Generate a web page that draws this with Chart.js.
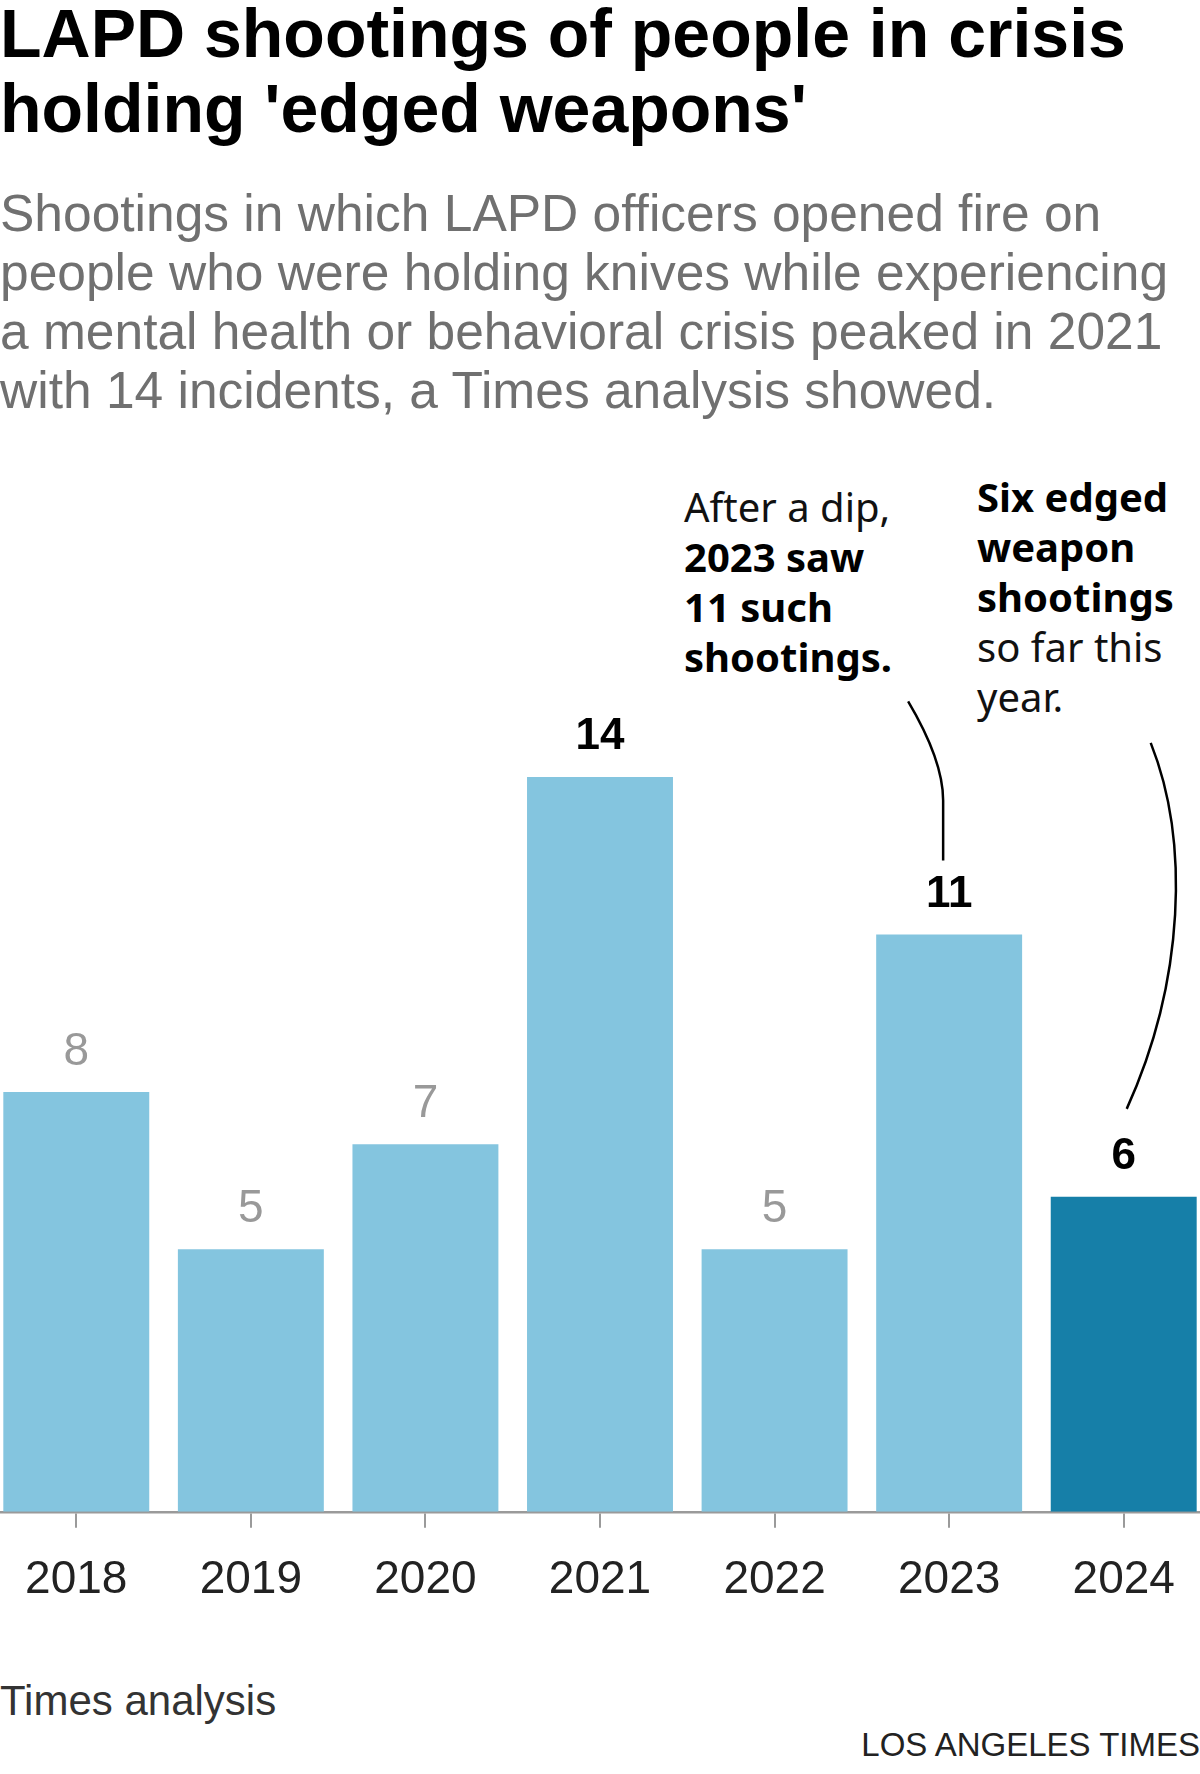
<!DOCTYPE html>
<html>
<head>
<meta charset="utf-8">
<script src="https://cdn.jsdelivr.net/npm/chart.js@4.4.1/dist/chart.umd.min.js"></script>
<style>
  html, body { margin:0; padding:0; background:#fff; width:1200px; height:1774px; overflow:hidden; position:relative; }
  .t { position:absolute; left:0; white-space:nowrap; }
  #title { top:-4px; font:bold 68px/75px "Liberation Sans", Arial, sans-serif; color:#000; }
  #sub { top:184px; font:51.5px/59px "Liberation Sans", Arial, sans-serif; color:#707070; }
  .ann { position:absolute; font:40px/50px "Noto Sans", sans-serif; color:#111; white-space:nowrap; }
  .ann b { font-weight:bold; color:#000; }
  #src { top:1680px; font:42px/42px "Liberation Sans", Arial, sans-serif; color:#333; }
  #credit { position:absolute; right:0; top:1729px; font:33px/32px "Liberation Sans", Arial, sans-serif; color:#222; white-space:nowrap; }
  #c { position:absolute; left:-11px; top:462px; }
</style>
</head>
<body>
<div id="title" class="t">LAPD shootings of people in crisis<br>holding 'edged weapons'</div>
<div id="sub" class="t">Shootings in which LAPD officers opened fire on<br>people who were holding knives while experiencing<br>a mental health or behavioral crisis peaked in 2021<br>with 14 incidents, a Times analysis showed.</div>
<div class="ann" style="left:684px; top:482px;">After a dip,<br><b>2023 saw<br>11 such<br>shootings.</b></div>
<div class="ann" style="left:977px; top:472px;"><b>Six edged<br>weapon<br>shootings</b><br>so far this<br>year.</div>
<div id="src" class="t">Times analysis</div>
<div id="credit">LOS ANGELES TIMES</div>
<canvas id="c" width="1222" height="1171"></canvas>
<script>
const years = ['2018','2019','2020','2021','2022','2023','2024'];
const shootings = [8, 5, 7, 14, 5, 11, 6];
const highlightYear = '2024';
const boldLabelYears = ['2021','2023','2024'];

const LIGHT = '#84c5df';
const DARK = '#167fa8';

const labelPlugin = {
  id: 'valueLabels',
  afterDatasetsDraw(chart) {
    const ctx = chart.ctx;
    const meta = chart.getDatasetMeta(0);
    ctx.save();
    ctx.textAlign = 'center';
    ctx.textBaseline = 'middle';
    meta.data.forEach((bar, i) => {
      const bold = boldLabelYears.includes(years[i]);
      ctx.font = bold ? 'bold 44px "Liberation Sans", Arial, sans-serif' : '46px "Liberation Sans", Arial, sans-serif';
      ctx.fillStyle = bold ? '#000' : '#999';
      ctx.fillText(String(shootings[i]), bar.x, bar.y - 40);
    });
    // connector lines
    const x = chart.scales.x, y = chart.scales.y;
    ctx.strokeStyle = '#000';
    ctx.lineWidth = 2.5;
    ctx.lineCap = 'butt';
    const i23 = years.indexOf('2023');
    const ax = x.getPixelForValue(i23) - 6, ay = y.getPixelForValue(shootings[i23]) - 74;
    ctx.beginPath();
    ctx.moveTo(ax - 35, ay - 159);
    ctx.quadraticCurveTo(ax, ay - 100, ax, ay - 60);
    ctx.lineTo(ax, ay);
    ctx.stroke();
    const i24 = years.indexOf('2024');
    const bx = x.getPixelForValue(i24) + 3, by = y.getPixelForValue(shootings[i24]) - 88;
    ctx.beginPath();
    ctx.moveTo(bx + 24, by - 366);
    ctx.bezierCurveTo(bx + 63, by - 268, bx + 58, by - 128, bx, by);
    ctx.stroke();
    ctx.restore();
  }
};

new Chart(document.getElementById('c'), {
  type: 'bar',
  data: {
    labels: years,
    datasets: [{
      data: shootings,
      backgroundColor: years.map(y => y === highlightYear ? DARK : LIGHT),
      borderWidth: 0,
      barPercentage: 0.836,
      categoryPercentage: 1.0
    }]
  },
  options: {
    responsive: false,
    animation: false,
    devicePixelRatio: 1,
    layout: { padding: 0 },
    plugins: { legend: { display: false }, tooltip: { enabled: false } },
    scales: {
      y: { display: false, min: 0, max: 20 },
      x: {
        border: { display: true, color: '#9a9a9a', width: 2.5 },
        grid: { display: true, drawOnChartArea: false, drawTicks: true, tickLength: 16, color: '#9a9a9a', lineWidth: 2, offset: false },
        ticks: { color: '#222', padding: 25, font: { family: '"Liberation Sans", Arial, sans-serif', size: 46, lineHeight: 1.2 } }
      }
    }
  },
  plugins: [labelPlugin]
});
</script>
</body>
</html>
